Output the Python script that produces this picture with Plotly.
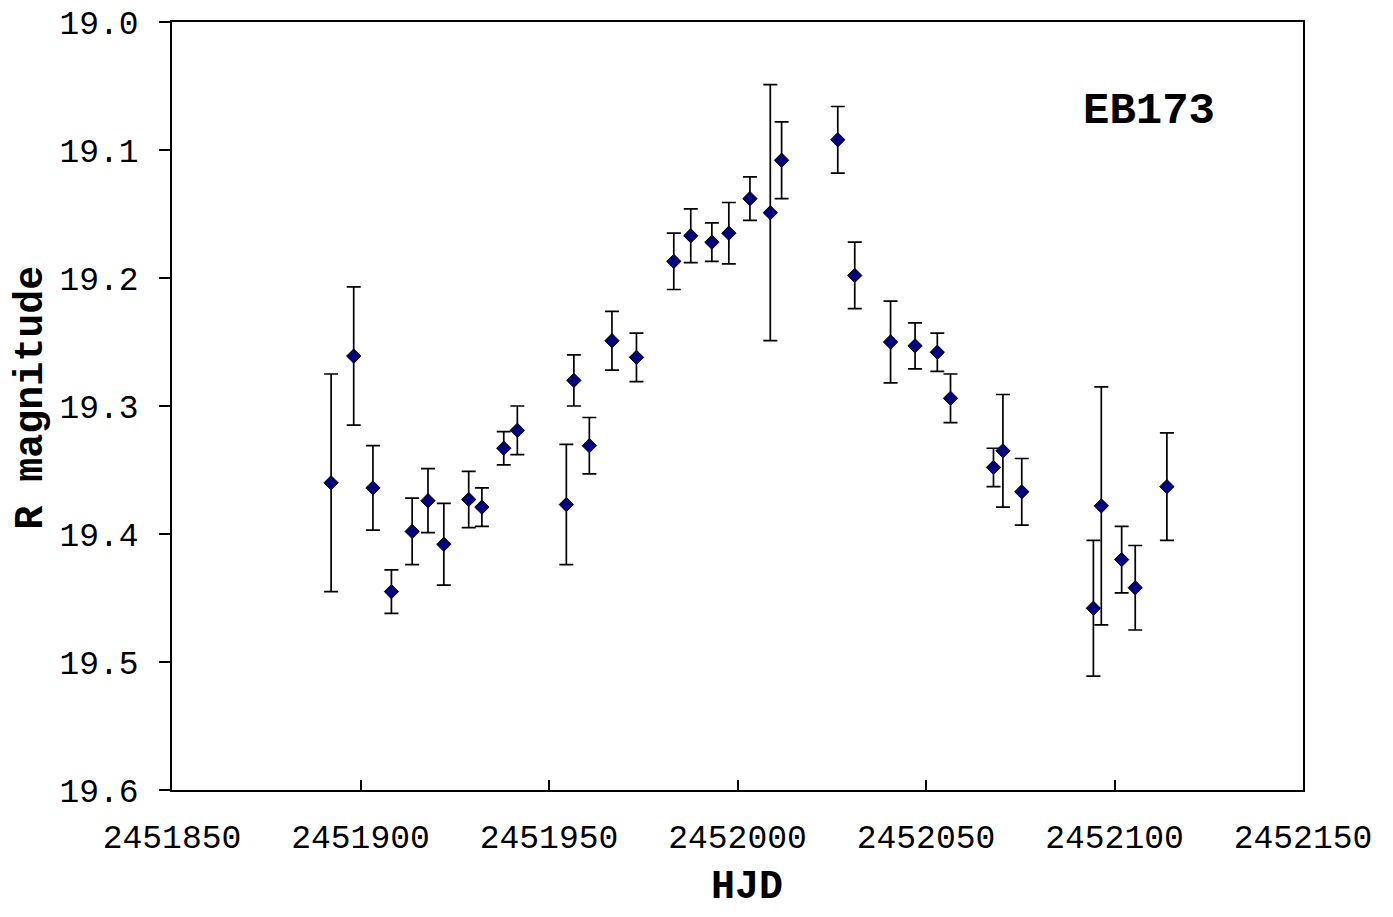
import plotly.graph_objects as go

# HJD - data values
hjd = [2451892.2, 2451898.2, 2451903.3, 2451908.2, 2451913.7, 2451917.9, 2451922.1,
       2451928.7, 2451932.2, 2451938.0, 2451941.6, 2451954.6, 2451956.6, 2451960.7,
       2451966.7, 2451973.2, 2451983.1, 2451987.6, 2451993.2, 2451997.7, 2452003.3,
       2452008.7, 2452011.7, 2452026.6, 2452031.1, 2452040.6, 2452047.1, 2452053.0,
       2452056.5, 2452067.9, 2452070.4, 2452075.4, 2452094.4, 2452096.5, 2452101.9,
       2452105.5, 2452113.9]

r_mag = [19.360, 19.261, 19.364, 19.445, 19.398, 19.374, 19.408,
         19.373, 19.379, 19.333, 19.319, 19.377, 19.280, 19.331,
         19.249, 19.262, 19.187, 19.167, 19.172, 19.165, 19.138,
         19.149, 19.108, 19.092, 19.198, 19.250, 19.253, 19.258,
         19.294, 19.348, 19.335, 19.367, 19.458, 19.378, 19.420,
         19.442, 19.363]

r_err = [0.085, 0.054, 0.033, 0.017, 0.026, 0.025, 0.032,
         0.022, 0.015, 0.013, 0.019, 0.047, 0.020, 0.022,
         0.023, 0.019, 0.022, 0.021, 0.015, 0.024, 0.017,
         0.100, 0.030, 0.026, 0.026, 0.032, 0.018, 0.015,
         0.019, 0.015, 0.044, 0.026, 0.053, 0.093, 0.026,
         0.033, 0.042]

x_ticks = [2451850, 2451900, 2451950, 2452000, 2452050, 2452100, 2452150]
y_ticks = [19.0, 19.1, 19.2, 19.3, 19.4, 19.5, 19.6]

FONT = "Liberation Mono, Courier New, monospace"

fig = go.Figure()
fig.add_trace(go.Scatter(
    x=hjd, y=r_mag, mode="markers",
    marker=dict(symbol="diamond", size=11, color="#000080",
                line=dict(color="black", width=1)),
    error_y=dict(type="data", array=r_err, visible=True,
                 color="black", thickness=1.7, width=7),
    showlegend=False,
))

fig.update_layout(
    width=1385, height=909,
    margin=dict(l=164, r=90, t=14, b=127),
    paper_bgcolor="white", plot_bgcolor="white",
    font=dict(family=FONT, color="black", size=33),
    xaxis=dict(
        range=[2451850, 2452150], tickvals=x_ticks,
        ticktext=[str(v) for v in x_ticks],
        showgrid=False, zeroline=False, automargin=False,
        showline=True, linecolor="black", linewidth=1.5, mirror=True,
        ticks="inside", ticklen=10, tickwidth=1.5, tickcolor="black",
        tickfont=dict(family=FONT, size=33, color="black"),
        ticklabelstandoff=17, ticklabeloverflow="allow",
    ),
    yaxis=dict(
        range=[19.6, 19.0], tickvals=y_ticks,
        ticktext=[f"{v:.1f}" for v in y_ticks],
        showgrid=False, zeroline=False, automargin=False,
        showline=True, linecolor="black", linewidth=1.5, mirror=True,
        ticks="outside", ticklen=11, tickwidth=1.5, tickcolor="black",
        tickfont=dict(family=FONT, size=33, color="black"),
        ticklabelstandoff=14, ticklabeloverflow="allow",
    ),
    annotations=[
        dict(text="<b>HJD</b>", xref="paper", yref="paper", x=0.508, y=-0.1275,
             xanchor="center", yanchor="middle", showarrow=False,
             font=dict(family=FONT, size=40, color="black")),
        dict(text="<b>R magnitude</b>", xref="paper", yref="paper", x=-0.1245, y=0.511,
             xanchor="center", yanchor="middle", textangle=-90, showarrow=False,
             font=dict(family=FONT, size=40, color="black")),
        dict(text="<b>EB173</b>", xref="paper", yref="paper", x=0.864, y=0.8838,
             xanchor="center", yanchor="middle", showarrow=False,
             font=dict(family=FONT, size=44, color="black")),
    ],
)

fig.write_html("out.html")
